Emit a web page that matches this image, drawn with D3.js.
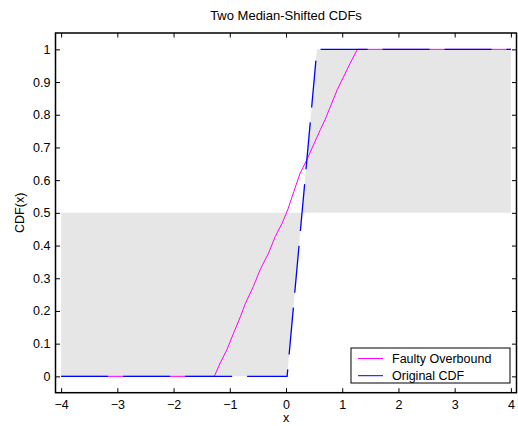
<!DOCTYPE html>
<html>
<head>
<meta charset="utf-8">
<script src="https://cdn.jsdelivr.net/npm/d3@7"></script>
<style>
    body { margin: 0; background: #fff; }
    text { font-family: Arial, "Liberation Sans", sans-serif; font-size: 12.5px; fill: #000; }
</style>
</head>
<body>
<div id="chart"></div>
<script>
// values
let xTicks = [-4, -3, -2, -1, 0, 1, 2, 3, 4]
let yTicks = [0, 0.1, 0.2, 0.3, 0.4, 0.5, 0.6, 0.7, 0.8, 0.9, 1]

// original CDF (blue, dashed)
let originalX = [-4, 0.02, 0.55, 4]
let originalY = [0, 0, 1, 1]

// faulty overbound (magenta)
let faultyX = [-4, -1.275, -1.17, -1.05, -0.93, -0.81, -0.72, -0.58, -0.46, -0.31, -0.19, -0.07, 0.03, 0.11, 0.25, 0.37, 0.61, 0.70, 0.91, 1.14, 1.27, 4]
let faultyY = [0, 0, 0.041, 0.082, 0.133, 0.183, 0.224, 0.275, 0.326, 0.377, 0.428, 0.468, 0.509, 0.55, 0.621, 0.662, 0.754, 0.787, 0.876, 0.957, 1.0, 1.0]

// level the gray band is shaded against
let medianLevel = 0.5

let legendLabels = ['Faulty Overbound', 'Original CDF']
let legendColors = ['#ff00ff', '#0000ff']

let width = 518, height = 426
let margin = {top: 33, right: 1.5, bottom: 33.3, left: 55.5}

let svg = d3.select('#chart').append('svg')
    .attr('width', width)
    .attr('height', height)

let xScale = d3.scaleLinear()
    .domain([-4.1, 4.1])
    .range([margin.left, width - margin.right])
let yScale = d3.scaleLinear()
    .domain([-0.05, 1.05])
    .range([height - margin.bottom, margin.top])

let original = originalX.map((x, i) => ({x: x, y: originalY[i]}))
let faulty = faultyX.map((x, i) => ({x: x, y: faultyY[i]}))

// gray band between the original CDF and the median level
let band = d3.area()
    .x(d => xScale(d.x))
    .y0(yScale(medianLevel))
    .y1(d => yScale(d.y))
svg.append('path')
    .datum(original)
    .attr('d', band)
    .attr('fill', '#e6e6e6')

let line = d3.line()
    .x(d => xScale(d.x))
    .y(d => yScale(d.y))

svg.append('path')
    .datum(faulty)
    .attr('d', line)
    .attr('fill', 'none')
    .attr('stroke', '#ff00ff')
    .attr('stroke-width', 1)

svg.append('path')
    .datum(original)
    .attr('d', line)
    .attr('fill', 'none')
    .attr('stroke', '#0000ff')
    .attr('stroke-width', 1.3)
    .style('stroke-dasharray', '47, 15')

// axes, ticks pointing inside on all four sides
let tick = 4.5
let xAxisB = svg.append('g')
    .attr('transform', 'translate(0,' + (height - margin.bottom) + ')')
    .call(d3.axisBottom(xScale).tickValues(xTicks).tickSizeInner(-tick).tickSizeOuter(0).tickPadding(7))
let xAxisT = svg.append('g')
    .attr('transform', 'translate(0,' + margin.top + ')')
    .call(d3.axisTop(xScale).tickValues(xTicks).tickSizeInner(-tick).tickSizeOuter(0))
xAxisT.selectAll('text').remove()
let yAxisL = svg.append('g')
    .attr('transform', 'translate(' + margin.left + ',0)')
    .call(d3.axisLeft(yScale).tickValues(yTicks).tickSizeInner(-tick).tickSizeOuter(0).tickPadding(5).tickFormat(d3.format('~g')))
let yAxisR = svg.append('g')
    .attr('transform', 'translate(' + (width - margin.right) + ',0)')
    .call(d3.axisRight(yScale).tickValues(yTicks).tickSizeInner(-tick).tickSizeOuter(0))
yAxisR.selectAll('text').remove()

svg.selectAll('.domain').remove()
svg.selectAll('.tick line').attr('stroke', '#000')
svg.selectAll('.tick text')
    .attr('font-family', 'Arial, "Liberation Sans", sans-serif')
    .attr('font-size', '12.5px')
    .attr('fill', '#000')

svg.append('rect')
    .attr('x', margin.left)
    .attr('y', margin.top)
    .attr('width', width - margin.right - margin.left)
    .attr('height', height - margin.bottom - margin.top)
    .attr('fill', 'none')
    .attr('stroke', '#000')
    .attr('stroke-width', 1.5)

// labels
svg.append('text')
    .text('Two Median-Shifted CDFs')
    .attr('x', (margin.left + width - margin.right) / 2)
    .attr('y', 20)
    .style('font-size', '13px')
    .style('text-anchor', 'middle')
svg.append('text')
    .text('x')
    .attr('x', (margin.left + width - margin.right) / 2)
    .attr('y', 422)
    .style('text-anchor', 'middle')
svg.append('text')
    .text('CDF(x)')
    .attr('transform', 'translate(24,' + ((margin.top + height - margin.bottom) / 2) + ') rotate(-90)')
    .style('text-anchor', 'middle')

// legend
let legend = svg.append('g').attr('transform', 'translate(351,348)')
legend.append('rect')
    .attr('width', 159)
    .attr('height', 35)
    .attr('fill', '#fff')
    .attr('stroke', '#000')
    .attr('stroke-width', 1)
let items = legend.selectAll('g.item').data(legendLabels).enter().append('g')
    .attr('class', 'item')
    .attr('transform', (d, i) => 'translate(0,' + (10.5 + i * 17.2) + ')')
items.append('line')
    .attr('x1', 7).attr('x2', 32)
    .attr('stroke', (d, i) => legendColors[i])
    .attr('stroke-width', 1)
items.append('text')
    .text(d => d)
    .attr('x', 41)
    .attr('dy', '0.35em')
</script>
</body>
</html>
